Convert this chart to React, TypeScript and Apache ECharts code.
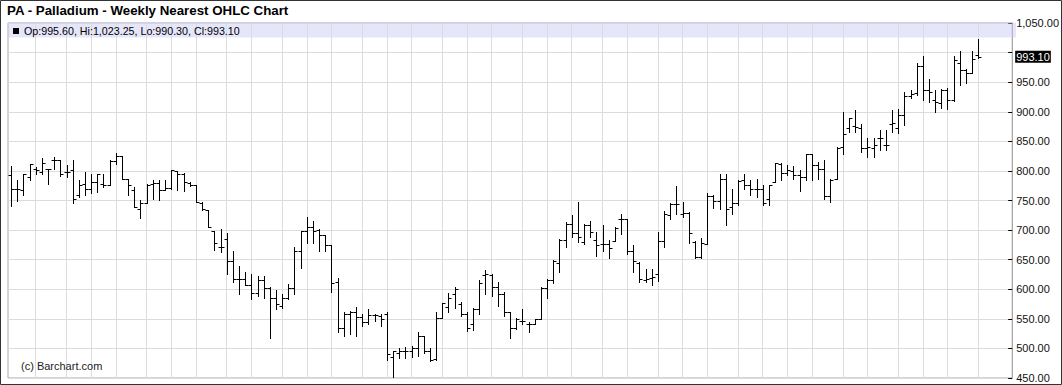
import React, { useEffect, useRef } from "react";
import * as echarts from "echarts";

const titleText = "PA - Palladium - Weekly Nearest OHLC Chart";
const legendText = "Op:995.60, Hi:1,023.25, Lo:990.30, Cl:993.10";
const watermark = "(c) Barchart.com";
const lastClose = 993.1;
const yMin = 450;
const yMax = 1050;
const yStep = 50;
const emptyWeeksAfter = 5;

const opens = [
  793, 769, 768, 790, 804, 798, 804, 818, 818, 798,
  801, 759, 778, 770, 781, 778, 777, 817, 825, 787,
  768, 736, 746, 778, 780, 768, 771, 800, 795, 780,
  776, 746, 734, 698, 672, 685, 648, 617, 617, 608,
  593, 616, 602, 585, 572, 585, 602, 665, 698, 706,
  700, 692, 674, 612, 535, 559, 561, 553, 544, 556,
  555, 559, 485, 493, 496, 496, 500, 521, 496, 482,
  552, 570, 592, 575, 558, 542, 566, 624, 624, 603,
  592, 561, 535, 547, 542, 542, 549, 602, 616, 645,
  684, 711, 695, 680, 709, 684, 677, 677, 682, 719,
  719, 665, 645, 616, 619, 626, 682, 725, 744, 728,
  729, 680, 654, 677, 757, 750, 787, 739, 746, 784,
  776, 770, 770, 753, 781, 812, 797, 800, 793, 789,
  828, 810, 804, 757, 787, 841, 873, 876, 873, 838,
  838, 855, 843, 879, 873, 894, 927, 931, 977, 936,
  920, 915, 936, 920, 982, 971, 966, 995.6,
];
const highs = [
  808, 784, 795, 812, 807, 821, 804, 823, 818, 810,
  819, 784, 798, 795, 795, 795, 818, 831, 825, 787,
  773, 751, 778, 785, 785, 784, 801, 800, 796, 781,
  776, 747, 734, 698, 702, 695, 665, 640, 629, 626,
  623, 623, 603, 599, 592, 609, 671, 699, 722, 716,
  702, 692, 674, 619, 561, 563, 570, 558, 566, 558,
  558, 561, 496, 501, 503, 504, 528, 521, 500, 561,
  577, 593, 604, 578, 561, 568, 616, 633, 626, 612,
  595, 561, 552, 566, 544, 549, 603, 617, 650, 685,
  714, 725, 747, 711, 716, 697, 708, 684, 705, 728,
  719, 674, 646, 634, 634, 697, 733, 745, 774, 747,
  731, 681, 687, 762, 759, 795, 795, 770, 785, 794,
  784, 787, 776, 777, 814, 814, 810, 808, 802, 828,
  828, 815, 818, 787, 841, 900, 890, 903, 880, 856,
  855, 870, 870, 903, 904, 934, 937, 982, 994, 955,
  936, 938, 940, 994, 1003, 972, 1003, 1023.25,
];
const lows = [
  740, 749, 759, 784, 795, 795, 778, 804, 791, 790,
  745, 756, 759, 762, 764, 773, 776, 811, 787, 760,
  739, 721, 745, 753, 751, 767, 770, 768, 766, 774,
  747, 734, 705, 666, 663, 626, 612, 592, 608, 583,
  589, 586, 518, 566, 569, 583, 592, 636, 679, 678,
  664, 665, 595, 527, 521, 524, 521, 538, 541, 547,
  538, 480, 451, 483, 484, 486, 487, 493, 478, 481,
  551, 561, 569, 555, 530, 531, 558, 592, 589, 572,
  555, 518, 532, 541, 527, 541, 549, 586, 610, 629,
  672, 688, 680, 677, 688, 657, 665, 653, 682, 694,
  660, 629, 612, 612, 608, 614, 671, 719, 728, 722,
  678, 653, 653, 677, 737, 736, 708, 728, 743, 770,
  759, 756, 743, 742, 781, 784, 793, 787, 766, 784,
  784, 787, 753, 747, 787, 829, 865, 865, 832, 824,
  824, 835, 835, 866, 864, 877, 923, 928, 920, 917,
  900, 906, 904, 919, 945, 948, 965, 990.3,
];
const closes = [
  769, 769, 794, 811, 801, 814, 804, 818, 795, 799,
  753, 777, 770, 781, 794, 777, 817, 825, 787, 777,
  739, 746, 777, 780, 768, 771, 801, 795, 782, 776,
  747, 736, 706, 678, 672, 648, 617, 617, 608, 594,
  616, 602, 585, 575, 585, 602, 665, 698, 706, 699,
  692, 674, 610, 535, 559, 561, 553, 544, 557, 556,
  549, 491, 496, 496, 496, 500, 521, 496, 480, 551,
  576, 586, 600, 558, 534, 566, 610, 625, 603, 592,
  561, 535, 549, 547, 542, 549, 602, 616, 647, 684,
  711, 695, 688, 709, 697, 674, 677, 670, 704, 719,
  665, 647, 617, 617, 620, 682, 728, 744, 744, 729,
  695, 655, 678, 757, 750, 787, 736, 746, 783, 777,
  770, 770, 746, 776, 814, 797, 801, 793, 789, 828,
  810, 804, 757, 785, 838, 863, 889, 875, 838, 840,
  843, 855, 843, 881, 894, 927, 930, 977, 936, 934,
  917, 936, 920, 987, 970, 966, 990, 993.1,
];
// index of the first weekly bar of each month (vertical grid lines)
const monthStarts = [
  4, 9, 13, 17, 22, 26, 30, 35, 39, 44, 48, 52, 57, 61, 65, 70, 74, 78,
  83, 87, 91, 96, 100, 105, 109, 113, 118, 122, 126, 130, 135, 139, 144,
  148, 152, 157,
];
const weeks = Array.from({ length: opens.length + emptyWeeksAfter }, (_, i) => "W" + (i + 1));

const fmt = (v: number) =>
  v.toLocaleString("en-US", { minimumFractionDigits: 2, maximumFractionDigits: 2 });

export default function App() {
  const ref = useRef<HTMLDivElement>(null);
  useEffect(() => {
    if (!ref.current) return;
    const chart = echarts.init(ref.current, undefined, { renderer: "svg" });
    const data = opens.map((o, i) => [i, o, highs[i], lows[i], closes[i]]);
    const font = '"Liberation Sans", Arial, Helvetica, sans-serif';
    chart.setOption({
      animation: false,
      backgroundColor: "#fff",
      grid: {
        left: 8,
        right: 46,
        top: 23,
        bottom: 7,
        show: true,
        borderColor: "#a8a8a8",
        borderWidth: 1,
        backgroundColor: "#fff",
      },
      xAxis: {
        type: "category",
        data: weeks,
        boundaryGap: true,
        axisLine: { show: false },
        axisTick: { show: false },
        axisLabel: { show: false },
        splitLine: { show: false },
      },
      yAxis: {
        type: "value",
        position: "right",
        min: yMin,
        max: yMax,
        interval: yStep,
        axisLine: { show: true, lineStyle: { color: "#a8a8a8" } },
        axisTick: { show: true, inside: true, length: 4, lineStyle: { color: "#000" } },
        axisLabel: {
          margin: 4,
          color: "#111",
          fontSize: 11,
          fontFamily: font,
          formatter: (v: number) => (v === 1000 ? "" : fmt(v)),
        },
        splitLine: { show: true, lineStyle: { color: "#dcdcdc", width: 1 } },
      },
      graphic: [
        {
          type: "rect",
          z: 1,
          shape: { x: 8, y: 22.5, width: 1008, height: 15 },
          style: { fill: "rgba(200,200,245,0.45)" },
          silent: true,
        },
        {
          type: "rect",
          z: 2,
          shape: { x: 13, y: 28, width: 6, height: 6 },
          style: { fill: "#000" },
        },
        {
          type: "text",
          z: 2,
          x: 24,
          y: 31,
          style: {
            text: legendText,
            font: `10.7px ${font}`,
            fill: "#000",
            verticalAlign: "middle",
          },
        },
        {
          type: "text",
          z: 2,
          x: 7,
          y: 10.5,
          style: {
            text: titleText,
            font: `bold 13.3px ${font}`,
            fill: "#000",
            verticalAlign: "middle",
          },
        },
        {
          type: "text",
          z: 2,
          x: 21,
          y: 366,
          style: {
            text: watermark,
            font: `11px ${font}`,
            fill: "#222",
            verticalAlign: "middle",
          },
        },
        {
          type: "rect",
          z: 10,
          shape: { x: 0.5, y: 0.5, width: 1061, height: 384 },
          style: { fill: "none", stroke: "#333", lineWidth: 1 },
          silent: true,
        },
      ],
      series: [
        {
          type: "line",
          data: weeks.map(() => null),
          z: 1,
          silent: true,
          showSymbol: false,
          markLine: {
            silent: true,
            symbol: ["none", "none"],
            animation: false,
            z: 1,
            label: { show: false },
            lineStyle: { color: "#dcdcdc", width: 1, type: "solid" },
            data: monthStarts.map((i) => ({ xAxis: weeks[i] })),
          },
        },
        {
          type: "custom",
          z: 3,
          data,
          encode: { x: 0, y: [1, 2, 3, 4] },
          renderItem: (params: any, api: any) => {
            const i = api.value(0);
            const o = api.coord([i, api.value(1)]);
            const h = api.coord([i, api.value(2)]);
            const l = api.coord([i, api.value(3)]);
            const c = api.coord([i, api.value(4)]);
            const x = Math.round(h[0]) + 0.5;
            const t = 3;
            const oy = Math.round(o[1]) + 0.5;
            const cy = Math.round(c[1]) + 0.5;
            const st = { stroke: "#000", lineWidth: 1 };
            return {
              type: "group",
              children: [
                { type: "line", shape: { x1: x, y1: Math.round(h[1]), x2: x, y2: Math.round(l[1]) + 1 }, style: st },
                { type: "line", shape: { x1: x - t, y1: oy, x2: x, y2: oy }, style: st },
                { type: "line", shape: { x1: x, y1: cy, x2: x + t, y2: cy }, style: st },
              ],
            };
          },
          markLine: {
            silent: true,
            symbol: ["none", "none"],
            animation: false,
            lineStyle: { color: "transparent", width: 0 },
            label: {
              show: true,
              position: "end",
              distance: 3,
              formatter: fmt(lastClose),
              backgroundColor: "#000",
              color: "#fff",
              fontSize: 11,
              fontFamily: font,
              padding: [1, 1, 0, 1],
            },
            data: [{ yAxis: lastClose }],
          },
        },
      ],
    });
    return () => chart.dispose();
  }, []);
  return (
    <div
      ref={ref}
      style={{ position: "absolute", left: 0, top: 0, width: 1062, height: 385 }}
    />
  );
}
